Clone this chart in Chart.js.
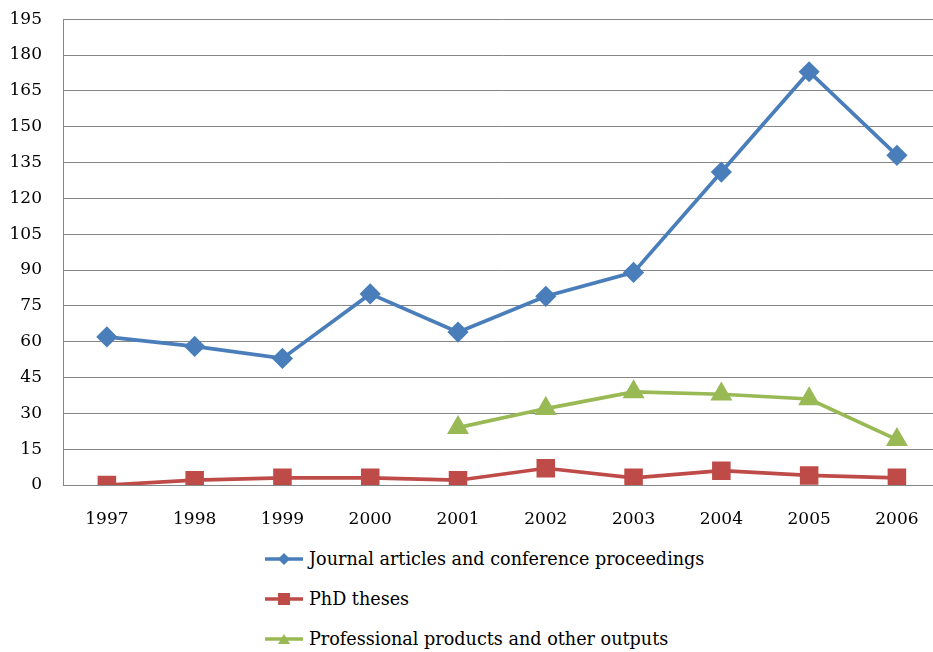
<!DOCTYPE html>
<html>
<head>
<meta charset="utf-8">
<script src="https://cdn.jsdelivr.net/npm/chart.js@4.4.1/dist/chart.umd.min.js"></script>
<style>
  html, body { margin: 0; padding: 0; background: #fff; overflow: hidden; }
  #wrap { position: relative; width: 960px; height: 652px; }
  #box { position: absolute; left: 0; top: -12px; width: 955px; height: 542px; }
  #legend { position: absolute; left: 265px; top: 539px; font-family: "DejaVu Serif", serif; font-size: 17.6px; color: #000; }
  #legend .item { display: flex; align-items: center; height: 40px; }
  #legend svg { margin-right: 6px; }
</style>
</head>
<body>
<div id="wrap">
  <div id="box"><canvas id="chart"></canvas></div>
  <div id="legend"></div>
</div>
<script>
const years = ["1997", "1998", "1999", "2000", "2001", "2002", "2003", "2004", "2005", "2006"];
const journal = [62, 58, 53, 80, 64, 79, 89, 131, 173, 138];
const phd = [0, 2, 3, 3, 2, 7, 3, 6, 4, 3];
const professional = [null, null, null, null, 24, 32, 39, 38, 36, 19];

const blue = "#4a7ebb";
const red = "#be4b48";
const green = "#98b954";
const font = { family: "'DejaVu Serif'", size: 17 };

const chart = new Chart(document.getElementById("chart"), {
  type: "line",
  data: {
    labels: years,
    datasets: [
      {
        label: "Journal articles and conference proceedings",
        data: journal,
        borderColor: blue,
        backgroundColor: blue,
        borderWidth: 3.7,
        pointStyle: "rectRot",
        pointRadius: 8,
        marker: "diamond"
      },
      {
        label: "PhD theses",
        data: phd,
        borderColor: red,
        backgroundColor: red,
        borderWidth: 3.7,
        pointStyle: "rect",
        pointRadius: 10.5,
        marker: "square"
      },
      {
        label: "Professional products and other outputs",
        data: professional,
        borderColor: green,
        backgroundColor: green,
        borderWidth: 3.7,
        pointStyle: "triangle",
        pointRadius: 9,
        marker: "triangle"
      }
    ]
  },
  options: {
    responsive: true,
    maintainAspectRatio: false,
    animation: false,
    layout: { padding: { top: 7, left: 0, right: 0, bottom: 0 } },
    plugins: { legend: { display: false }, tooltip: { enabled: false } },
    elements: { line: { tension: 0 }, point: { borderWidth: 1 } },
    scales: {
      x: {
        offset: true,
        grid: { display: false, offset: true },
        border: { color: "#868686", width: 1 },
        ticks: { color: "#000", font: font, padding: 16, maxRotation: 0 },
        afterFit: s => { s.height = 45; }
      },
      y: {
        min: 0,
        max: 195,
        grid: { color: "#868686", lineWidth: 1, drawTicks: false },
        border: { color: "#868686", width: 1 },
        ticks: { stepSize: 15, color: "#000", font: font, padding: 21 },
        afterFit: s => { s.width = 63; }
      }
    }
  }
});

// legend in a vertical list, as in the original
const legend = document.getElementById("legend");
chart.data.datasets.forEach(ds => {
  const c = ds.borderColor;
  let shape = "";
  if (ds.marker === "diamond") shape = `<polygon points="19,2 25,8 19,14 13,8" fill="${c}"/>`;
  if (ds.marker === "square") shape = `<rect x="13" y="2" width="12" height="12" fill="${c}"/>`;
  if (ds.marker === "triangle") shape = `<polygon points="19,3 25,13 13,13" fill="${c}"/>`;
  const item = document.createElement("div");
  item.className = "item";
  item.innerHTML = `<svg width="38" height="16"><line x1="0" y1="8" x2="38" y2="8" stroke="${c}" stroke-width="3.5"/>${shape}</svg><span>${ds.label}</span>`;
  legend.appendChild(item);
});
</script>
</body>
</html>
